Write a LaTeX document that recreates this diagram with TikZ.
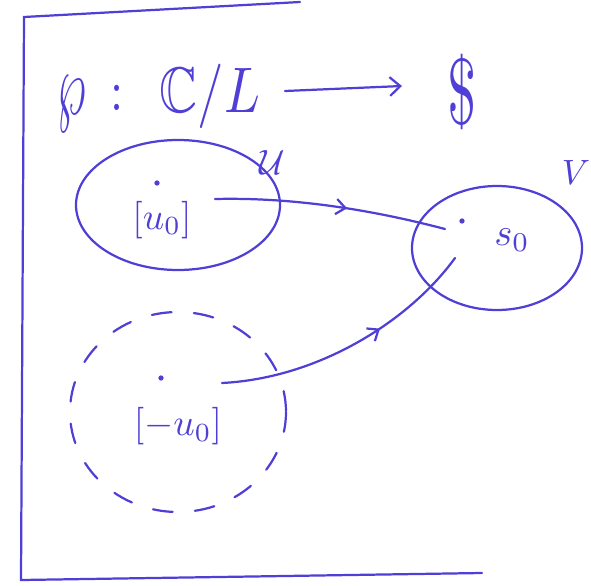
\documentclass[tikz,border=0pt]{standalone}
\usepackage{amsmath,amssymb,graphicx}
\usetikzlibrary{arrows.meta,decorations.markings}
\definecolor{inkblue}{HTML}{4F3FD6}
\tikzset{
    every node/.style={text=inkblue,inner sep=1pt},
    ink/.style={draw=inkblue,line width=1.9pt,line cap=round},
    pt/.style={circle,fill=inkblue,inner sep=0pt,minimum size=4.5pt},
    midarrow/.style={postaction={decorate},decoration={markings,
        mark=at position #1 with {\arrow{Straight Barb[length=8pt,width=13pt,line width=1.9pt]}}}}
}
\begin{document}
\begin{tikzpicture}[x=0.03cm,y=-0.03cm]
    \useasboundingbox (0,0) rectangle (591,585);
    % frame
    \draw[ink] (300,2) -- (24,17) -- (21,580) -- (482,573);
    % title
    \node (wp) at (72,104) {\scalebox{3.8}[7.5]{$\wp$}};
    \node (col) at (117,98) {\scalebox{4}[5]{$:$}};
    \node (tor) at (210,96) {\scalebox{4.5}[5.5]{$\mathbb{C}/L$}};
    \node (srf) at (462,92) {\scalebox{5}[8]{\$}};
    \coordinate (t0) at (285,91);
    \coordinate (t1) at (402,86);
    \draw[ink,-{Straight Barb[length=9pt,width=16pt,line width=1.9pt]}] (t0) -- (t1);
    % the sets
    \draw[ink] (178,205) ellipse [x radius=102,y radius=65];
    \node (lu) at (272,162) {\scalebox{3}{$\mathcal{U}$}};
    \draw[ink] (497,248) ellipse [x radius=85,y radius=62];
    \node (lv) at (576,172) {\scalebox{3}{$V$}};
    \draw[ink,dash pattern=on 17pt off 19pt] (178,412) ellipse [x radius=108,y radius=100];
    % points
    \node[pt] (pu) at (157,183) {};
    \node (lpu) at (162,220) {\scalebox{3.2}{$[u_0]$}};
    \node[pt] (ps) at (462,221) {};
    \node (lps) at (512,240) {\scalebox{3.3}{$s_0$}};
    \node[pt] (pm) at (161,378) {};
    \node (lpm) at (178,426) {\scalebox{3.2}{$[-u_0]$}};
    % maps
    \coordinate (a0) at (215,199);
    \coordinate (a1) at (445,229);
    \coordinate (b0) at (222,383);
    \coordinate (b1) at (455,258);
    \draw[ink,midarrow=0.57] (a0) .. controls (300,197) and (380,212) .. (a1);
    \draw[ink,midarrow=0.62] (b0) .. controls (320,378) and (410,320) .. (b1);
\end{tikzpicture}
\end{document}
